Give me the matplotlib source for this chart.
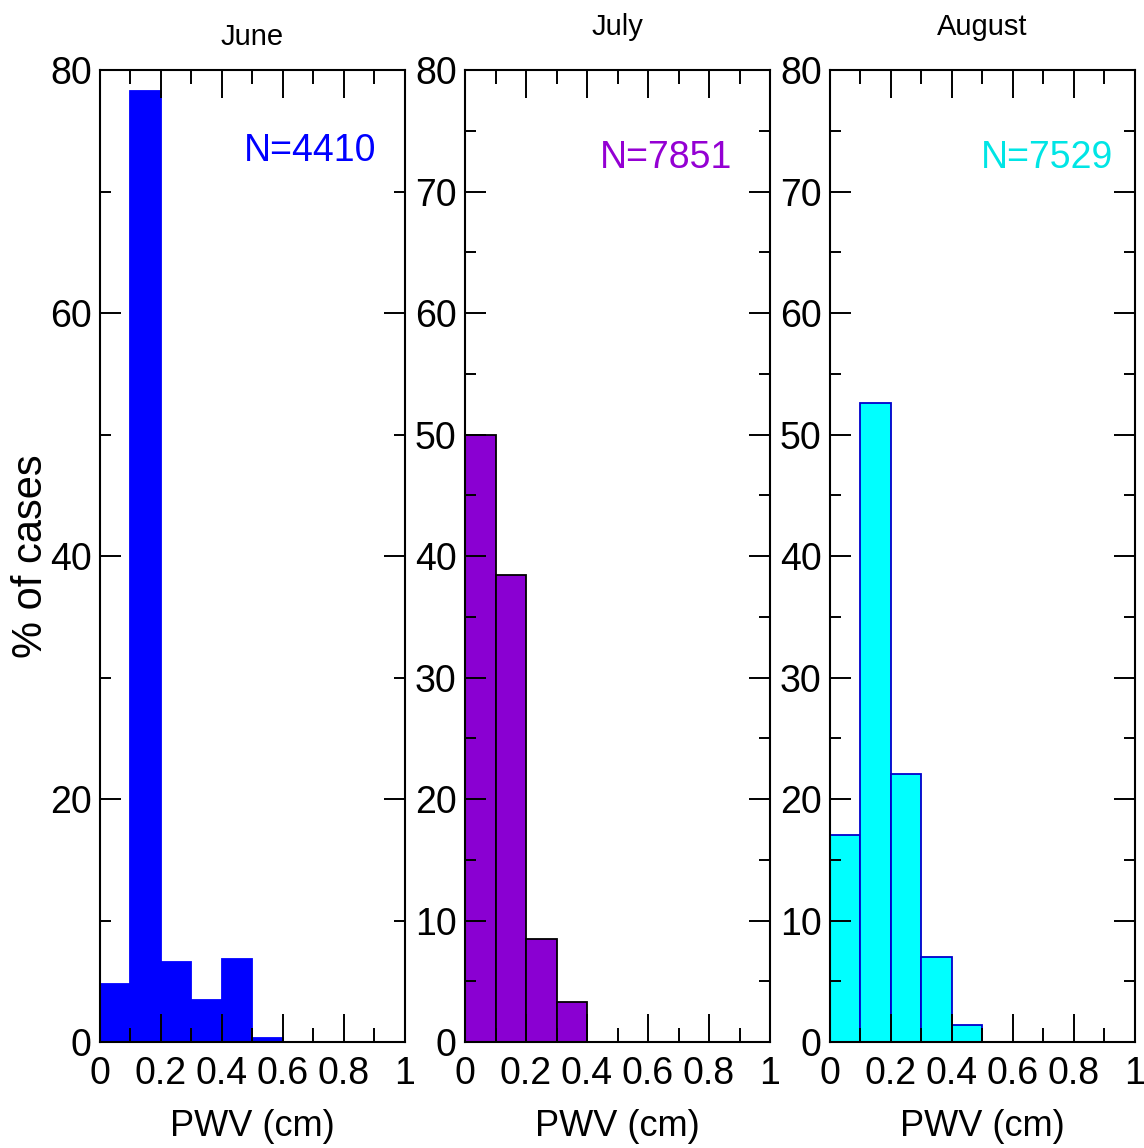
import matplotlib
matplotlib.use('Agg')
import matplotlib.pyplot as plt
from matplotlib.ticker import MultipleLocator

plt.rcParams['font.family'] = ['Liberation Sans', 'DejaVu Sans']

# histogram of PWV per month, bins 0.1 cm wide
bin_left = [0.0, 0.1, 0.2, 0.3, 0.4, 0.5]
bin_width = 0.1
months = ['June', 'July', 'August']
june_pct = [4.8, 78.3, 6.6, 3.5, 6.8, 0.3]
july_pct = [50.0, 38.4, 8.5, 3.3]
august_pct = [17.0, 52.6, 22.1, 7.0, 1.4]
n_cases = [4410, 7851, 7529]
x_ticks = [0, 0.2, 0.4, 0.6, 0.8, 1]
x_tick_labels = ['0', '0.2', '0.4', '0.6', '0.8', '1']

fig = plt.figure(figsize=(11.44, 11.48), dpi=100)

panels = [
    # values, fill, edge, y major step, y minor step, left, title pad, N-label x, y
    (june_pct, '#0000ff', '#0000ff', 20, 10, 0.0874, 18, 0.69, 0.917),
    (july_pct, '#8a00d2', '#000000', 10, 5, 0.4065, 25, 0.66, 0.910),
    (august_pct, '#00ffff', '#0000cc', 10, 5, 0.7255, 25, 0.71, 0.910),
]
n_colors = ['#0000ff', '#9400d3', '#00e5e5']

for i, (vals, fc, ec, ymaj, ymin, left, tpad, nx, ny) in enumerate(panels):
    ax = fig.add_axes([left, 0.0923, 0.2666, 0.8467])
    ax.bar(bin_left[:len(vals)], vals, width=bin_width, align='edge',
           color=fc, edgecolor=ec, linewidth=1.3, zorder=1)
    ax.set_xlim(0, 1)
    ax.set_ylim(0, 80)
    ax.set_xticks(x_ticks)
    ax.set_xticklabels(x_tick_labels)
    ax.xaxis.set_minor_locator(MultipleLocator(0.1))
    ax.yaxis.set_major_locator(MultipleLocator(ymaj))
    ax.yaxis.set_minor_locator(MultipleLocator(ymin))
    ax.tick_params(axis='both', which='both', direction='in', top=True, right=True,
                   width=1.4, labelsize=27)
    ax.tick_params(axis='x', which='major', length=20, pad=10)
    ax.tick_params(axis='x', which='minor', length=10)
    ax.tick_params(axis='y', which='major', length=15, pad=6)
    ax.tick_params(axis='y', which='minor', length=8)
    # ticks drawn on top of the bars
    ax.xaxis.set_zorder(5)
    ax.yaxis.set_zorder(5)
    for s in ax.spines.values():
        s.set_linewidth(1.5)
        s.set_zorder(6)
    ax.set_title(months[i], fontsize=21, pad=tpad)
    ax.set_xlabel('PWV (cm)', fontsize=26, labelpad=12)
    ax.text(nx, ny, 'N=%d' % n_cases[i], transform=ax.transAxes,
            ha='center', va='center', fontsize=27, color=n_colors[i])
    if i == 0:
        ax.set_ylabel('% of cases', fontsize=30, labelpad=-1)

fig.savefig('out.png', dpi=100)
